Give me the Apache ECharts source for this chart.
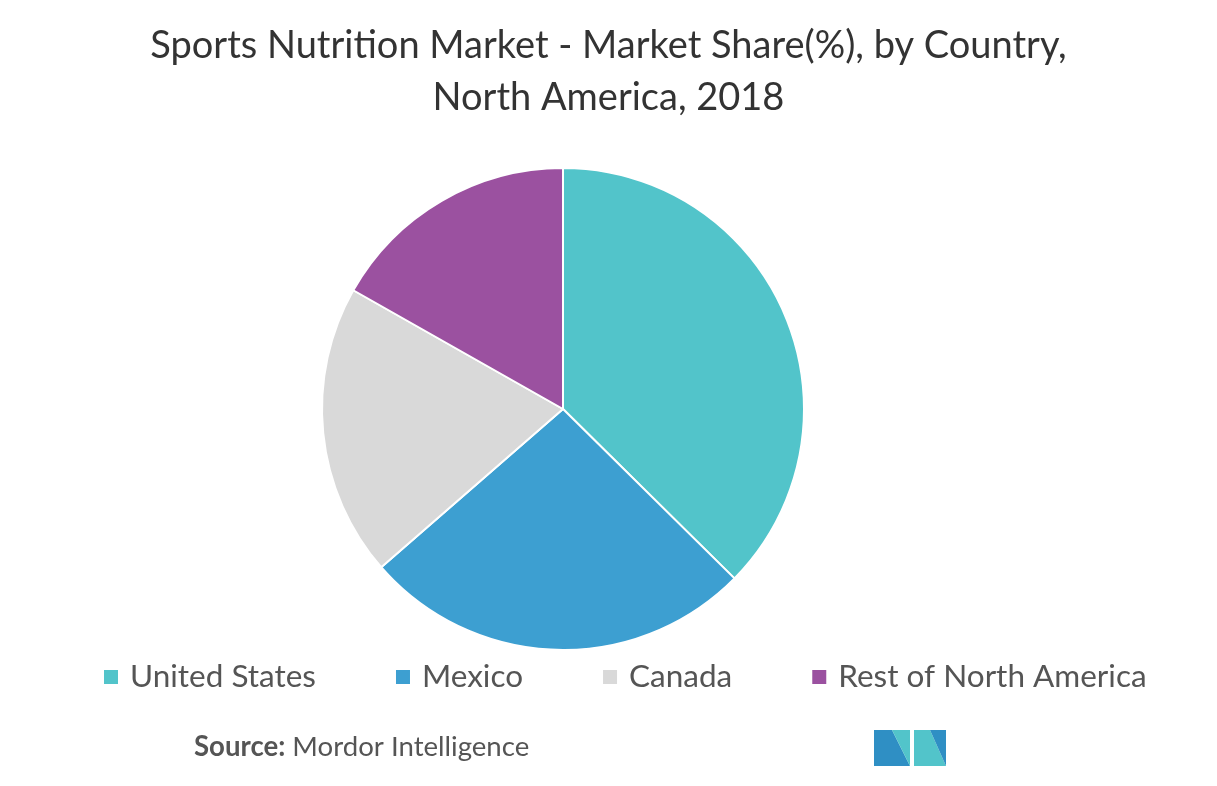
<!DOCTYPE html>
<html>
<head>
<meta charset="utf-8">
<script src="https://cdn.jsdelivr.net/npm/echarts@6/dist/echarts.min.js"></script>
<style>html,body{margin:0;padding:0;background:#fff}#main{width:1217px;height:786px}</style>
</head>
<body>
<div id="main"></div>
<script>
var countries = ['United States', 'Mexico', 'Canada', 'Rest of North America'];
var shares = [37.4, 26.2, 19.6, 16.8];
var colors = ['#52c4ca', '#3d9fd1', '#d9d9d9', '#9b51a0'];

var pieData = [];
for (var i = 0; i < countries.length; i++) {
    pieData.push({ name: countries[i], value: shares[i], itemStyle: { color: colors[i] } });
}

var myChart = echarts.init(document.getElementById('main'));
var option = {
    title: {
        text: 'Sports Nutrition Market - Market Share(%), by Country,\nNorth America, 2018',
        left: 'center',
        top: 15,
        textStyle: { fontFamily: 'Lato', fontSize: 38, fontWeight: 'normal', color: '#333', lineHeight: 52 }
    },
    legend: {
        data: countries,
        bottom: 88,
        left: 97,
        itemWidth: 16,
        itemHeight: 16,
        itemGap: 78,
        icon: 'rect',
        textStyle: { fontFamily: 'Lato', fontSize: 31.5, color: '#555', padding: [0, 0, 0, 6] }
    },
    series: [{
        type: 'pie',
        center: [563, 409],
        radius: 241,
        startAngle: 90,
        clockwise: true,
        label: { show: false },
        labelLine: { show: false },
        itemStyle: { borderColor: '#fff', borderWidth: 2 },
        data: pieData
    }],
    graphic: [
        {
            type: 'text', left: 194, top: 733,
            style: {
                text: '{b|Source:} Mordor Intelligence',
                rich: {
                    b: { fontFamily: 'Lato', fontSize: 27.6, fontWeight: 'bold', fill: '#555' }
                },
                fontFamily: 'Lato', fontSize: 27.6, fill: '#555'
            }
        },
        { type: 'polygon', shape: { points: [[874, 766], [874, 730], [892, 730], [910, 766]] }, style: { fill: '#2f8fc4' } },
        { type: 'polygon', shape: { points: [[892, 730], [910, 730], [910, 766]] }, style: { fill: '#52c4ca' } },
        { type: 'polygon', shape: { points: [[914, 766], [914, 730], [930, 730], [946, 766]] }, style: { fill: '#52c4ca' } },
        { type: 'polygon', shape: { points: [[930, 730], [946, 730], [946, 766]] }, style: { fill: '#2f8fc4' } }
    ]
};
myChart.setOption(option);
</script>
</body>
</html>
